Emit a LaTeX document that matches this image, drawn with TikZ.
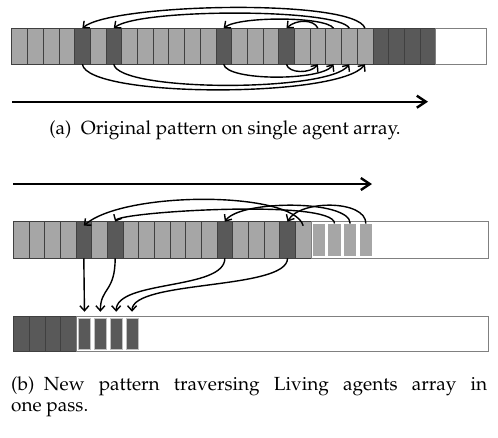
\documentclass[tikz,border=0pt]{standalone}
\usepackage[T1]{fontenc}
\usepackage{mathpazo}
\usetikzlibrary{arrows.meta,positioning}

\definecolor{livefill}{RGB}{166,166,166}
\definecolor{deadfill}{RGB}{89,89,89}
\definecolor{cellrule}{RGB}{64,64,64}
\definecolor{framerule}{RGB}{128,128,128}

\begin{document}
\begin{tikzpicture}[
  x=1pt, y=-1pt,
  cell/.style={rectangle, draw=cellrule, line width=0.6pt, inner sep=0pt, outer sep=0pt,
    minimum width=15.7pt, minimum height=36pt},
  live/.style={cell, fill=livefill},
  dead/.style={cell, fill=deadfill},
  empty/.style={cell, draw=framerule, fill=white},
  newlive/.style={rectangle, inner sep=0pt, fill=livefill, minimum width=12.5pt, minimum height=32.5pt},
  newdead/.style={rectangle, inner sep=0pt, fill=deadfill, draw=livefill!70, line width=0.8pt,
    minimum width=12pt, minimum height=31.5pt},
  link/.style={-{Straight Barb[length=5pt,width=9pt]}, line width=1.4pt},
  scan/.style={-{Straight Barb[length=9pt,width=12pt]}, line width=2.4pt},
  caption/.style={inner sep=0pt, font=\fontsize{19}{21}\selectfont}
]
\useasboundingbox (0,0) rectangle (498,437);

% single agent array
\foreach \s [count=\i from 0] in {live,live,live,live,dead,live,dead,live,live,live,live,live,live,
    dead,live,live,live,dead,live,live,live,live,live,dead,dead,dead,dead}
  \node[\s] (a\i) at ({11.7+15.7*(\i+0.5)},46.2) {};
\node[empty, minimum width=50.4pt, right=0pt of a26] (arest) {};

% reads above, writes below
\draw[link] (a22.north) .. controls +(-10,-30) and +(30,-25) .. (a4.north);
\draw[link] (a21.north) .. controls +(-10,-20) and +(25,-20) .. (a6.north);
\draw[link] (a20.north) .. controls +(-8,-12) and +(15,-12) .. (a13.north);
\draw[link] (a19.north) .. controls +(-4,-9) and +(10,-9) .. (a17.north);
\draw[link] (a4.south) .. controls +(5,34) and +(-25,34) .. (a22.south);
\draw[link] (a6.south) .. controls +(5,28) and +(-20,28) .. (a21.south);
\draw[link] (a13.south) .. controls +(3,17) and +(-12,17) .. (a20.south);
\draw[link] (a17.south) .. controls +(2,9.5) and +(-7,9.5) .. (a19.south);

\coordinate (scanAfrom) at (12,101.7);
\coordinate (scanAto) at (428,101.7);
\draw[scan] (scanAfrom) -- (scanAto);

\node[caption, anchor=base] (capA) at (225,134) {(a)\enspace Original pattern on single agent array.};

% living agents array
\coordinate (scanBfrom) at (13,184);
\coordinate (scanBto) at (372,184);
\draw[scan] (scanBfrom) -- (scanBto);

\foreach \s [count=\i from 0] in {live,live,live,live,dead,live,dead,live,live,live,live,live,live,
    dead,live,live,live,dead,live}
  \node[\s, minimum width=15.67pt, minimum height=36.6pt] (b\i) at ({13.3+15.67*(\i+0.5)},240) {};
\node[empty, minimum width=177.3pt, minimum height=36.6pt, right=0pt of b18] (brest) {};
\foreach \i in {19,...,22}
  \node[newlive] (b\i) at ({13.3+15.67*(\i+0.5)},240) {};

\draw[link] ([yshift=-4pt]b18.north) .. controls +(-10,-35) and +(40,-35) .. ([yshift=-4pt]b4.north);
\draw[link] (b20.north) .. controls +(0,-25) and +(5,-10) .. (b6.north);
\draw[link] (b21.north) .. controls +(0,-24) and +(15,-22) .. (b13.north);
\draw[link] (b22.north) .. controls +(0,-24) and +(12,-22) .. (b17.north);

% dead agents array
\foreach \i in {0,...,3}
  \node[dead, minimum width=15.83pt, minimum height=35.7pt] (c\i) at ({13.3+15.83*(\i+0.5)},333.9) {};
\node[empty, minimum width=411.7pt, minimum height=35.7pt, right=0pt of c3] (crest) {};
\foreach \i in {4,...,7}
  \node[newdead] (c\i) at ({13.3+15.83*(\i+0.5)},333.9) {};

\draw[link, shorten >=6pt] (b4.south) -- (c4.north);
\draw[link, shorten >=6pt] (b6.south) .. controls +(0,34) and +(0,-30) .. (c5.north);
\draw[link, shorten >=6pt] (b13.south) .. controls +(0,32) and +(0,-38) .. (c6.north);
\draw[link, shorten >=6pt] (b17.south) .. controls +(0,32) and +(0,-38) .. (c7.north);

\node[caption, anchor=north west, text width=476pt, align=justify] (capB) at (11,377)
  {(b)\enspace New pattern traversing Living agents array in\linebreak one pass.};
\end{tikzpicture}
\end{document}
